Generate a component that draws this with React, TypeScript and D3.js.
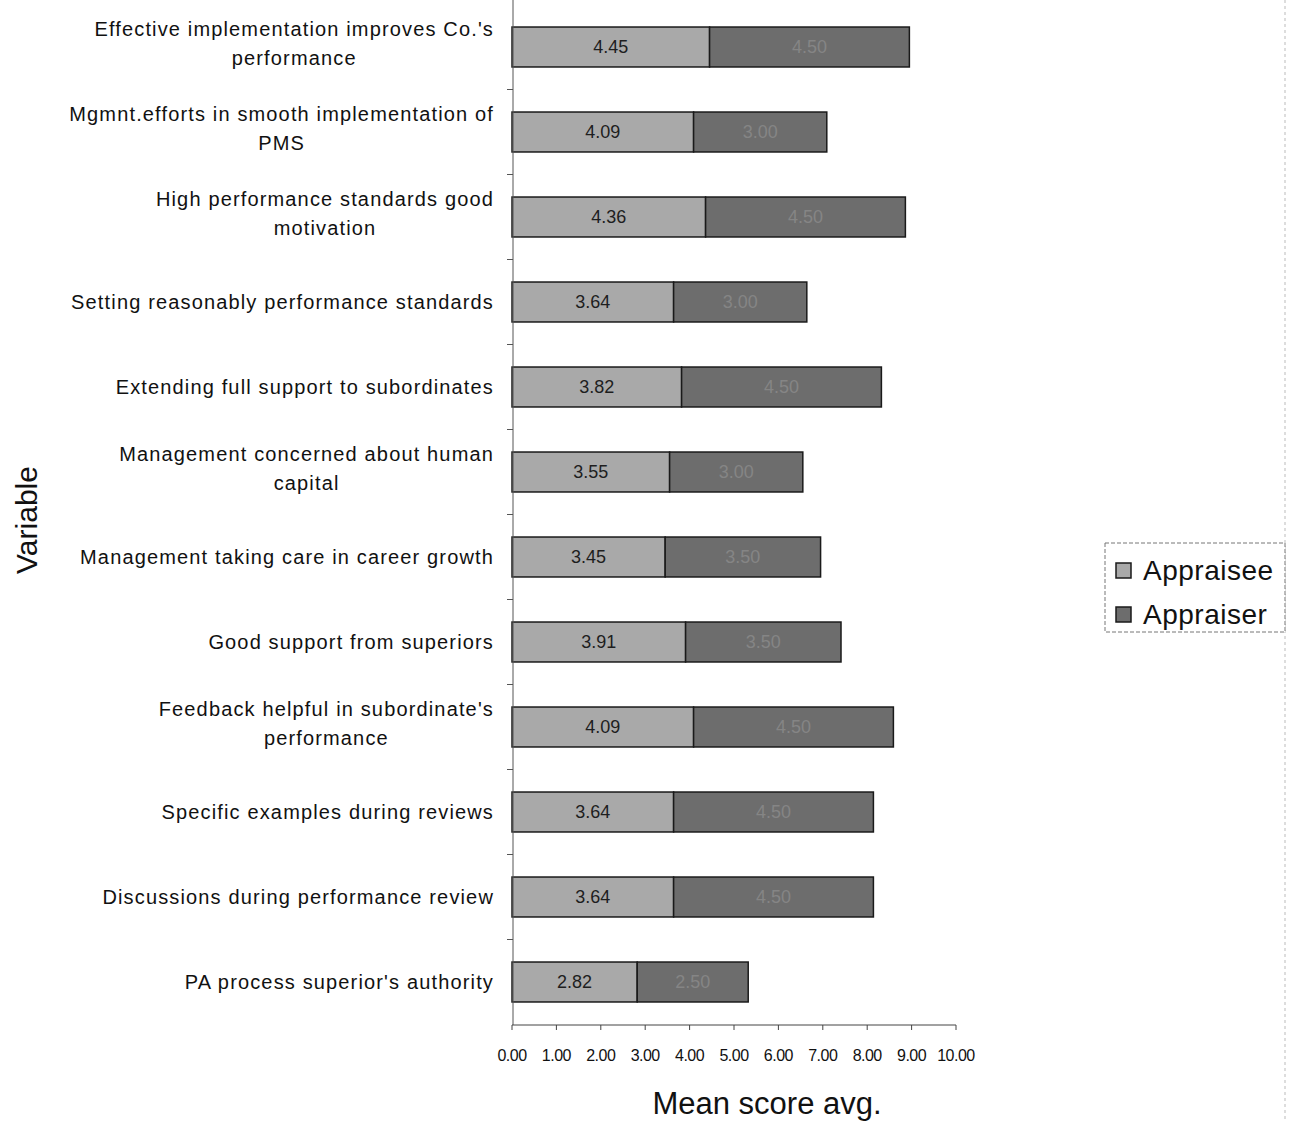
import React from "react";
import * as d3 from "d3";

const categories = [
  ["Effective implementation improves Co.'s", "performance"],
  ["Mgmnt.efforts in smooth implementation of", "PMS"],
  ["High performance standards good", "motivation"],
  ["Setting reasonably performance standards"],
  ["Extending full support to subordinates"],
  ["Management concerned about human", "capital"],
  ["Management taking care in career growth"],
  ["Good support from superiors"],
  ["Feedback helpful in subordinate's", "performance"],
  ["Specific examples during reviews"],
  ["Discussions during performance review"],
  ["PA process superior's authority"],
];
const appraisee = [4.45, 4.09, 4.36, 3.64, 3.82, 3.55, 3.45, 3.91, 4.09, 3.64, 3.64, 2.82];
const appraiser = [4.5, 3.0, 4.5, 3.0, 4.5, 3.0, 3.5, 3.5, 4.5, 4.5, 4.5, 2.5];
const xTicks = [0, 1, 2, 3, 4, 5, 6, 7, 8, 9, 10];
const xTickLabels = ["0.00", "1.00", "2.00", "3.00", "4.00", "5.00", "6.00", "7.00", "8.00", "9.00", "10.00"];
const seriesNames = ["Appraisee", "Appraiser"];

const W = 1289;
const H = 1121;
const LABEL_SIZE = 20;
const LABEL_SPACING = 1.15;
const LABEL_FONT = `${LABEL_SIZE}px 'Liberation Sans', Arial, sans-serif`;
const colors = ["#a9a9a9", "#6d6d6d"];

let measureCtx: CanvasRenderingContext2D | null = null;
function textWidth(s: string): number {
  if (!measureCtx) {
    const c = document.createElement("canvas");
    measureCtx = c.getContext("2d");
  }
  if (!measureCtx) return s.length * (10 + LABEL_SPACING);
  measureCtx.font = LABEL_FONT;
  return measureCtx.measureText(s).width + s.length * LABEL_SPACING;
}

export default function App() {
  const ids = categories.map((_, i) => String(i));
  const x = d3.scaleLinear().domain([0, 10]).range([512, 956]);
  const y = d3
    .scaleBand<string>()
    .domain(ids)
    .range([4.5, 1024.5])
    .paddingInner(0.53)
    .paddingOuter(0.265);
  const step = y.step();
  const bh = y.bandwidth();
  const axisY = 1025;
  const labelRight = 494;

  const stacked = categories.map((_, i) => {
    const a1 = appraisee[i];
    const b1 = a1 + appraiser[i];
    return { i, segs: [[0, a1, appraisee[i]], [a1, b1, appraiser[i]]] };
  });

  return (
    <svg
      width={W}
      height={H}
      style={{ position: "absolute", left: 0, top: 0, background: "#fff" }}
      fontFamily="'Liberation Sans', Arial, sans-serif"
    >
      {/* outer chart border on the right */}
      <line x1={1285} x2={1285} y1={0} y2={H} stroke="#bbb" strokeDasharray="3,3" strokeWidth={1} />

      {/* bars */}
      {stacked.map(({ i, segs }) => {
        const yy = y(String(i))!;
        return (
          <g key={i}>
            {segs.map(([s, e, v], k) => (
              <g key={k}>
                <rect
                  x={x(s)}
                  y={yy}
                  width={x(e) - x(s)}
                  height={bh}
                  fill={colors[k]}
                  stroke="#1a1a1a"
                  strokeWidth={1.5}
                />
                <text
                  x={(x(s) + x(e)) / 2}
                  y={yy + bh / 2}
                  dy="0.35em"
                  textAnchor="middle"
                  fontSize={18}
                  fill={k === 0 ? "#1e1e1e" : "#858585"}
                >
                  {v.toFixed(2)}
                </text>
              </g>
            ))}
          </g>
        );
      })}

      {/* y axis */}
      <line x1={513} x2={513} y1={0} y2={axisY} stroke="#555" strokeWidth={1} />
      {ids.slice(1).map((id) => {
        const yy = y(id)! - (step - bh) / 2;
        return <line key={id} x1={507} x2={513} y1={yy} y2={yy} stroke="#555" strokeWidth={1} />;
      })}

      {/* category labels */}
      <g fontSize={LABEL_SIZE} letterSpacing={LABEL_SPACING} fill="#111">
        {categories.map((lines, i) => {
          const cy = y(String(i))! + bh / 2;
          if (lines.length === 1) {
            return (
              <text key={i} x={labelRight} y={cy} dy="0.35em" textAnchor="end">
                {lines[0]}
              </text>
            );
          }
          const mid = labelRight - textWidth(lines[0]) / 2;
          return (
            <g key={i}>
              <text x={labelRight} y={cy - 18} dy="0.35em" textAnchor="end">
                {lines[0]}
              </text>
              <text x={mid} y={cy + 11} dy="0.35em" textAnchor="middle">
                {lines[1]}
              </text>
            </g>
          );
        })}
      </g>

      {/* x axis */}
      <line x1={x(0)} x2={x(10)} y1={axisY} y2={axisY} stroke="#444" strokeWidth={1} />
      {xTicks.map((t, k) => (
        <g key={t}>
          <line x1={x(t)} x2={x(t)} y1={axisY} y2={axisY + 5} stroke="#444" strokeWidth={1} />
          <text
            x={x(t)}
            y={1055}
            dy="0.35em"
            textAnchor="middle"
            fontSize={16}
            fontFamily="'Liberation Sans Narrow', 'Arial Narrow', 'Liberation Sans', sans-serif"
            letterSpacing={-0.5}
            fill="#111"
          >
            {xTickLabels[k]}
          </text>
        </g>
      ))}

      {/* axis titles */}
      <text x={767} y={1103} dy="0.35em" textAnchor="middle" fontSize={31} fill="#111">
        Mean score avg.
      </text>
      <text
        transform="translate(26,520) rotate(-90)"
        dy="0.35em"
        textAnchor="middle"
        fontSize={30}
        fill="#111"
      >
        Variable
      </text>

      {/* legend */}
      <rect x={1105} y={543} width={180} height={89} fill="#fff" stroke="#777" strokeDasharray="4,2" strokeWidth={1} />
      {seriesNames.map((name, k) => (
        <g key={name}>
          <rect x={1116} y={563 + k * 44} width={15} height={15} fill={colors[k]} stroke="#1a1a1a" strokeWidth={1.5} />
          <text x={1143} y={570 + k * 44} dy="0.35em" fontSize={28} letterSpacing={0.5} fill="#111">
            {name}
          </text>
        </g>
      ))}
    </svg>
  );
}
